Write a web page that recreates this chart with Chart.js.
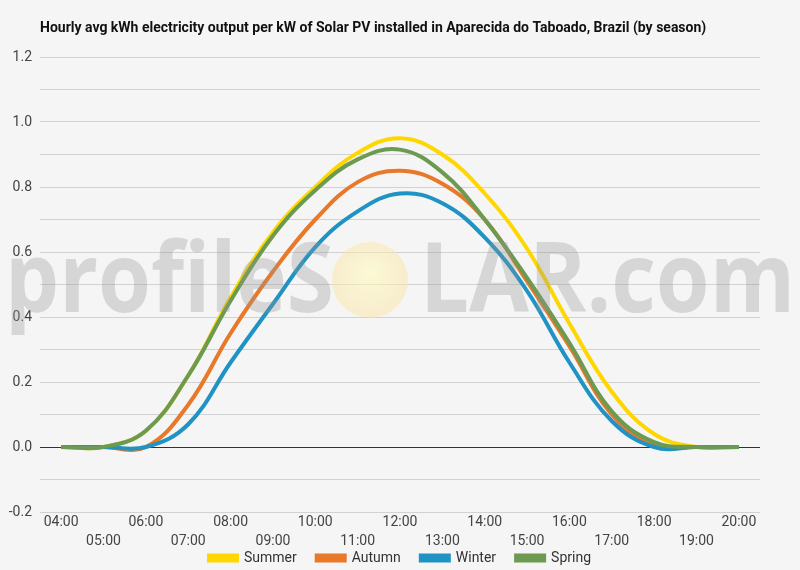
<!DOCTYPE html>
<html>
<head>
<meta charset="utf-8">
<script src="https://cdn.jsdelivr.net/npm/chart.js@4"></script>
<style>
  html, body { margin: 0; padding: 0; background: #f5f5f5; }
  #wrap { width: 800px; height: 570px; }
</style>
</head>
<body>
<div id="wrap"><canvas id="solarChart" width="800" height="570"></canvas></div>
<script>
// hourly average kWh per kW installed, by season
const hours = ['04:00', '05:00', '06:00', '07:00', '08:00', '09:00', '10:00', '11:00', '12:00',
  '13:00', '14:00', '15:00', '16:00', '17:00', '18:00', '19:00', '20:00'];
const summer = [0, 0, 0.05, 0.22, 0.46, 0.66, 0.80, 0.905, 0.95, 0.90, 0.78, 0.61, 0.38, 0.17, 0.04, 0, 0];
const autumn = [0, 0, 0, 0.13, 0.35, 0.54, 0.70, 0.815, 0.85, 0.81, 0.70, 0.51, 0.31, 0.10, 0.005, 0, 0];
const winter = [0, 0, 0, 0.07, 0.26, 0.44, 0.615, 0.725, 0.78, 0.75, 0.645, 0.48, 0.26, 0.08, 0, 0, 0];
const spring = [0, 0, 0.05, 0.22, 0.45, 0.65, 0.79, 0.885, 0.915, 0.845, 0.70, 0.52, 0.32, 0.11, 0.015, 0, 0];

const titleText = 'Hourly avg kWh electricity output per kW of Solar PV installed in Aparecida do Taboado, Brazil (by season)';

// background, title and the profileSOLAR watermark
const decor = {
  id: 'decor',
  beforeDraw(chart) {
    const ctx = chart.ctx;
    ctx.save();
    ctx.fillStyle = '#f5f5f5';
    ctx.fillRect(0, 0, chart.width, chart.height);
    ctx.fillStyle = '#111';
    ctx.font = 'bold 14px Roboto';
    ctx.textBaseline = 'middle';
    ctx.fillText(titleText, 40, 28);
    ctx.restore();
  },
  afterDatasetsDraw(chart) {
    const ctx = chart.ctx;
    ctx.save();
    // sun in place of the "O"
    const g = ctx.createRadialGradient(370, 272, 4, 370, 280, 39);
    g.addColorStop(0, 'rgba(255, 250, 190, 0.6)');
    g.addColorStop(1, 'rgba(250, 228, 165, 0.5)');
    ctx.fillStyle = g;
    ctx.beginPath();
    ctx.arc(370, 280, 38, 0, Math.PI * 2);
    ctx.fill();

    ctx.fillStyle = 'rgba(150, 150, 150, 0.32)';
    ctx.font = '700 97px "Open Sans"';
    ctx.textBaseline = 'alphabetic';
    const drawFit = (txt, x0, x1) => {
      const w = ctx.measureText(txt).width;
      ctx.save();
      ctx.translate(x0, 312);
      ctx.scale((x1 - x0) / w, 1);
      ctx.fillText(txt, 0, 0);
      ctx.restore();
    };
    drawFit('profileS', 5, 334);
    drawFit('LAR.com', 420, 795);
    ctx.restore();
  }
};

new Chart(document.getElementById('solarChart'), {
  type: 'line',
  data: {
    labels: hours,
    datasets: [
      { label: 'Summer', data: summer, borderColor: '#FFD700', backgroundColor: '#FFD700', order: 3 },
      { label: 'Autumn', data: autumn, borderColor: '#E8792A', backgroundColor: '#E8792A', order: 2 },
      { label: 'Winter', data: winter, borderColor: '#1E93C4', backgroundColor: '#1E93C4', order: 1 },
      { label: 'Spring', data: spring, borderColor: '#6C9A50', backgroundColor: '#6C9A50', order: 0 },
    ],
  },
  options: {
    responsive: false,
    animation: false,
    layout: { padding: { top: 57, right: 0, left: 0, bottom: 0 } },
    elements: {
      line: { borderWidth: 4, tension: 0.4, fill: false },
      point: { radius: 0 },
    },
    scales: {
      x: {
        offset: true,
        grid: { display: false, drawTicks: false },
        border: { display: false },
        afterFit(scale) {
          scale.height = 19;
          // second row of hour labels runs below the axis box, so don't clip it
          scale._computeLabelArea = () => undefined;
        },
        ticks: {
          autoSkip: false,
          maxRotation: 0,
          padding: 1,
          color: '#444',
          font: { family: 'Roboto', size: 14, lineHeight: 1.36 },
          callback(value, index) {
            const lbl = hours[index];
            return index % 2 === 0 ? [lbl] : ['', lbl];
          },
        },
      },
      y: {
        min: -0.2,
        max: 1.2,
        grid: {
          drawTicks: false,
          color(ctx) { return Math.abs(ctx.tick.value) < 1e-9 ? '#333' : '#d2d2d2'; },
        },
        border: { display: false },
        afterFit(scale) { scale.width = 40; },
        ticks: {
          stepSize: 0.1,
          padding: 8,
          color: '#444',
          font: { family: 'Roboto', size: 14 },
          callback(value) {
            const n = Math.round(value * 10);
            return n % 2 === 0 ? (n / 10).toFixed(1) : '';
          },
        },
      },
      // empty right margin so the legend stays centred on the page
      yRight: {
        position: 'right',
        min: 0,
        max: 1,
        grid: { display: false, drawTicks: false },
        border: { display: false },
        ticks: { display: false },
        afterFit(scale) { scale.width = 40; },
      },
    },
    plugins: {
      legend: {
        position: 'bottom',
        maxHeight: 39,
        labels: {
          boxWidth: 28,
          boxHeight: 5,
          padding: 20,
          color: '#333',
          font: { family: 'Roboto', size: 14 },
          sort: (a, b) => a.datasetIndex - b.datasetIndex,
        },
      },
      tooltip: { enabled: false },
    },
  },
  plugins: [decor],
});
</script>
</body>
</html>
